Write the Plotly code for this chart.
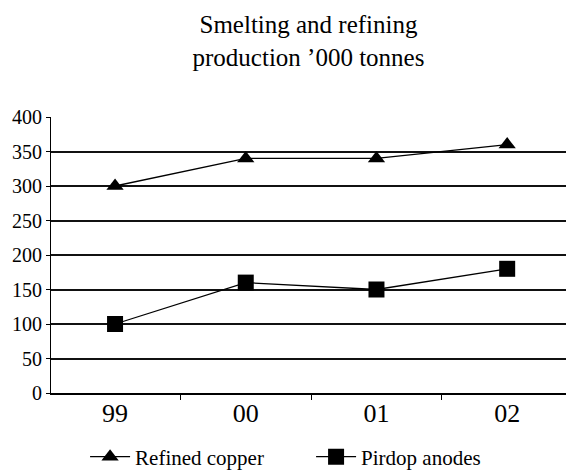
import plotly.graph_objects as go

years = ["99", "00", "01", "02"]
refined_copper = [300, 340, 340, 360]
pirdop_anodes = [100, 160, 150, 180]
y_ticks = [0, 50, 100, 150, 200, 250, 300, 350, 400]

font_family = "Liberation Serif"

fig = go.Figure()
fig.add_trace(go.Scatter(
    x=years, y=refined_copper, name="Refined copper", mode="lines+markers",
    line=dict(color="black", width=1.3),
    marker=dict(symbol="triangle-up", size=15, color="black"),
))
fig.add_trace(go.Scatter(
    x=years, y=pirdop_anodes, name="Pirdop anodes", mode="lines+markers",
    line=dict(color="black", width=1.3),
    marker=dict(symbol="square", size=16, color="black"),
))

fig.update_layout(
    width=566, height=470,
    margin=dict(l=51, r=0, t=117, b=77, autoexpand=False),
    paper_bgcolor="white", plot_bgcolor="white",
    font=dict(family=font_family, color="black", size=21),
    title=dict(
        text="Smelting and refining<br>production ’000 tonnes",
        x=0.5, xanchor="center", xref="paper",
        y=1 - 33 / 470, yanchor="top", yref="container",
        font=dict(family=font_family, size=25, color="black"),
    ),
    showlegend=True,
    legend=dict(
        orientation="h", x=0.505, xanchor="center", y=-0.232, yanchor="middle",
        font=dict(family=font_family, size=21, color="black"),
        itemwidth=40, entrywidth=171, entrywidthmode="pixels",
        bgcolor="rgba(0,0,0,0)",
    ),
    xaxis=dict(
        type="category", range=[-0.49, 3.45], automargin=False,
        showline=True, linecolor="black", linewidth=2,
        showgrid=False, ticks="outside", tickson="boundaries",
        ticklen=5, tickcolor="black", tickwidth=1,
        tickfont=dict(size=26), ticklabelstandoff=-4, zeroline=False,
    ),
    yaxis=dict(
        range=[0, 400], tickvals=y_ticks, automargin=False,
        showline=True, linecolor="black", linewidth=1.2,
        showgrid=True, gridcolor="#111111", gridwidth=1.8,
        ticks="outside", ticklen=4, tickcolor="black",
        tickfont=dict(size=20), zeroline=False,
    ),
)

fig.write_html("out.html")
